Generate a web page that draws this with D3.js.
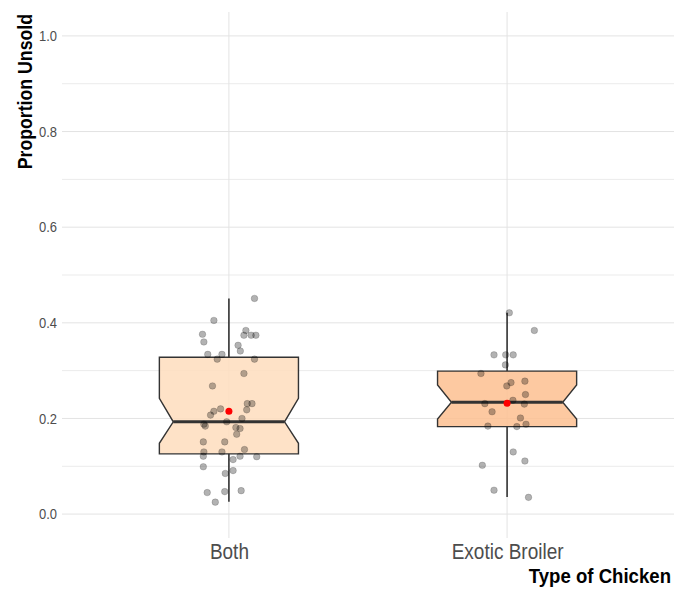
<!DOCTYPE html>
<html>
<head>
<meta charset="utf-8">
<script src="https://cdn.jsdelivr.net/npm/d3@7"></script>
<style>
  body { margin: 0; background: #fff; }
  text { font-family: "Liberation Sans", Arial, sans-serif; }
</style>
</head>
<body>
<div id="chart"></div>
<script>
// categories and box statistics
const categories = ["Both", "Exotic Broiler"];
const boxFill = ["#FEDDBD", "#FDC090"];
const whiskerLow = [0.026, 0.036];
const q1 = [0.126, 0.183];
const median = [0.193, 0.234];
const q3 = [0.328, 0.299];
const whiskerHigh = [0.451, 0.421];
const notchLow = [0.148, 0.199];
const notchHigh = [0.242, 0.270];
const means = [0.215, 0.232];

// jittered raw points: value and horizontal offset (category units)
const bothValues = [0.451, 0.405, 0.376, 0.360, 0.384, 0.374, 0.374, 0.374, 0.353, 0.341,
    0.334, 0.334, 0.324, 0.324, 0.294, 0.268, 0.231, 0.231, 0.218, 0.220,
    0.215, 0.207, 0.200, 0.193, 0.188, 0.184, 0.181, 0.179, 0.167, 0.151,
    0.151, 0.135, 0.130, 0.130, 0.121, 0.121, 0.120, 0.114, 0.099, 0.085,
    0.091, 0.045, 0.047, 0.049, 0.025];
const bothJitter = [0.092, -0.054, -0.095, -0.090, 0.061, 0.054, 0.080, 0.097, 0.033, 0.041,
    -0.076, -0.025, -0.042, 0.092, 0.054, -0.059, 0.066, 0.083, 0.064, -0.030,
    -0.054, -0.066, 0.047, -0.008, -0.090, -0.085, 0.025, 0.040, 0.028, -0.092,
    -0.015, 0.056, -0.090, -0.025, -0.092, 0.040, 0.100, 0.015, -0.092, -0.013,
    0.015, -0.078, -0.015, 0.044, -0.049];
const exoticValues = [0.421, 0.384, 0.333, 0.333, 0.333, 0.312, 0.294, 0.275, 0.278, 0.268,
    0.250, 0.238, 0.231, 0.230, 0.214, 0.201, 0.188, 0.184, 0.183, 0.130,
    0.111, 0.102, 0.050, 0.035];
const exoticJitter = [0.008, 0.098, -0.047, -0.005, 0.022, -0.006, -0.094, 0.014, 0.064, -0.001,
    0.066, 0.021, -0.080, 0.062, -0.054, 0.048, 0.068, -0.069, 0.035, 0.022,
    0.064, -0.089, -0.047, 0.077];

const yTicks = [0, 0.2, 0.4, 0.6, 0.8, 1.0];
const yMinor = [0.1, 0.3, 0.5, 0.7, 0.9];

const width = 674, height = 590;
const margin = {top: 12, right: 0, bottom: 52, left: 62};
// the original type is a bit narrower than Liberation Sans, so stretch it upwards
const stretch = 1.15;

const svg = d3.select("#chart").append("svg")
    .attr("width", width)
    .attr("height", height);

const x = d3.scalePoint()
    .domain(categories)
    .range([margin.left, width - margin.right])
    .padding(0.6);
const step = x.step();

const y = d3.scaleLinear()
    .domain([-0.05, 1.05])
    .range([height - margin.bottom, margin.top]);

// grid
const grid = svg.append("g");
grid.selectAll(".minor")
    .data(yMinor)
    .enter().append("line")
    .attr("x1", margin.left).attr("x2", width - margin.right)
    .attr("y1", d => y(d)).attr("y2", d => y(d))
    .attr("stroke", "#ebebeb").attr("stroke-width", 1);
grid.selectAll(".major")
    .data(yTicks)
    .enter().append("line")
    .attr("x1", margin.left).attr("x2", width - margin.right)
    .attr("y1", d => y(d)).attr("y2", d => y(d))
    .attr("stroke", "#e3e3e3").attr("stroke-width", 1);
grid.selectAll(".vgrid")
    .data(categories)
    .enter().append("line")
    .attr("x1", d => x(d)).attr("x2", d => x(d))
    .attr("y1", margin.top).attr("y2", height - margin.bottom)
    .attr("stroke", "#e3e3e3").attr("stroke-width", 1);

// axes (text only, like theme_minimal)
const yAxis = svg.append("g")
    .attr("transform", `translate(${margin.left},0)`)
    .call(d3.axisLeft(y).tickValues(yTicks).tickFormat(d3.format(".1f")).tickSize(0).tickPadding(5));
yAxis.select(".domain").remove();
yAxis.selectAll("text")
    .attr("fill", "#4d4d4d")
    .attr("transform", `scale(1,${stretch})`)
    .style("font-size", "13px");

const xAxis = svg.append("g")
    .attr("transform", `translate(0,${height - margin.bottom})`)
    .call(d3.axisBottom(x).tickSize(0));
xAxis.select(".domain").remove();
xAxis.selectAll("text")
    .attr("fill", "#4d4d4d")
    .attr("y", 21.3 / stretch)
    .attr("dy", 0)
    .attr("transform", `scale(1,${stretch})`)
    .style("font-size", "19px");

// boxes
const boxHalf = step * 0.25;
const notchHalf = boxHalf * 0.8;

const boxes = categories.map((c, i) => ({
    cat: c, fill: boxFill[i], lo: whiskerLow[i], q1: q1[i], med: median[i],
    q3: q3[i], hi: whiskerHigh[i], nLo: notchLow[i], nHi: notchHigh[i], mean: means[i]
}));

const bg = svg.selectAll(".box")
    .data(boxes)
    .enter().append("g")
    .attr("class", "box");

bg.append("line")
    .attr("x1", d => x(d.cat)).attr("x2", d => x(d.cat))
    .attr("y1", d => y(d.q3)).attr("y2", d => y(d.hi))
    .attr("stroke", "#333").attr("stroke-width", 1.6);
bg.append("line")
    .attr("x1", d => x(d.cat)).attr("x2", d => x(d.cat))
    .attr("y1", d => y(d.q1)).attr("y2", d => y(d.lo))
    .attr("stroke", "#333").attr("stroke-width", 1.6);

bg.append("path")
    .attr("d", d => {
        const cx = x(d.cat);
        const pts = [
            [cx - boxHalf, y(d.q3)], [cx + boxHalf, y(d.q3)],
            [cx + boxHalf, y(d.nHi)], [cx + notchHalf, y(d.med)],
            [cx + boxHalf, y(d.nLo)], [cx + boxHalf, y(d.q1)],
            [cx - boxHalf, y(d.q1)], [cx - boxHalf, y(d.nLo)],
            [cx - notchHalf, y(d.med)], [cx - boxHalf, y(d.nHi)]
        ];
        return d3.line()(pts) + "Z";
    })
    .attr("fill", d => d.fill)
    .attr("fill-opacity", 0.85)
    .attr("stroke", "#333")
    .attr("stroke-width", 1.4);

bg.append("line")
    .attr("x1", d => x(d.cat) - notchHalf).attr("x2", d => x(d.cat) + notchHalf)
    .attr("y1", d => y(d.med)).attr("y2", d => y(d.med))
    .attr("stroke", "#333").attr("stroke-width", 3);

// jittered points
const points = [];
bothValues.forEach((v, i) => points.push({cat: categories[0], v: v, j: bothJitter[i]}));
exoticValues.forEach((v, i) => points.push({cat: categories[1], v: v, j: exoticJitter[i]}));

svg.append("g").selectAll("circle")
    .data(points)
    .enter().append("circle")
    .attr("cx", d => x(d.cat) + d.j * step)
    .attr("cy", d => y(d.v))
    .attr("r", 3.3)
    .attr("fill", "#000")
    .attr("fill-opacity", 0.3)
    .attr("stroke", "#000")
    .attr("stroke-opacity", 0.2)
    .attr("stroke-width", 0.8);

// means
svg.append("g").selectAll("circle")
    .data(boxes)
    .enter().append("circle")
    .attr("cx", d => x(d.cat))
    .attr("cy", d => y(d.mean))
    .attr("r", 3.5)
    .attr("fill", "#ff0000");

// titles
svg.append("text")
    .attr("transform", `translate(671,583) scale(1,1.1)`)
    .attr("text-anchor", "end")
    .style("font-size", "18.6px")
    .style("font-weight", "bold")
    .attr("fill", "#000")
    .text("Type of Chicken");

svg.append("text")
    .attr("transform", `translate(31.5,${margin.top + 2}) rotate(-90) scale(1,${stretch})`)
    .attr("text-anchor", "end")
    .style("font-size", "17.7px")
    .style("font-weight", "bold")
    .attr("fill", "#000")
    .text("Proportion Unsold");
</script>
</body>
</html>
